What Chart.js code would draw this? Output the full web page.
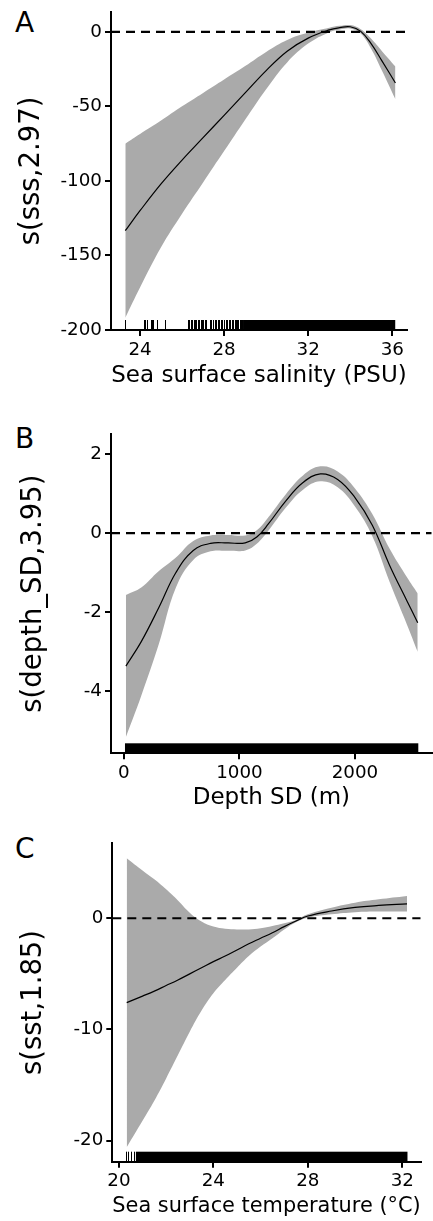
<!DOCTYPE html>
<html>
<head>
<meta charset="utf-8">
<script src="https://cdn.jsdelivr.net/npm/chart.js@4.4.1/dist/chart.umd.min.js"></script>
<style>
body{margin:0;background:#fff;width:433px;height:1221px;position:relative;overflow:hidden;font-family:"DejaVu Sans",sans-serif}
canvas{position:absolute;left:0}
.lbl{position:absolute;left:15px;font-size:28px;line-height:28px;color:#000}
</style>
</head>
<body>
<div class="lbl" style="top:9px">A</div>
<div class="lbl" style="top:425px">B</div>
<div class="lbl" style="top:835px">C</div>
<canvas id="chartA" width="433" height="395" style="top:0px;width:433px;height:395px"></canvas>
<canvas id="chartB" width="433" height="420" style="top:395px;width:433px;height:420px"></canvas>
<canvas id="chartC" width="433" height="406" style="top:815px;width:433px;height:406px"></canvas>
<script>

// A: sea surface salinity
const sssX     = [23.3, 24, 25, 26, 27, 28, 29, 30, 31, 32, 33, 33.5, 34, 34.5, 35, 35.5, 36.15]
const sssFit   = [-133.4, -120, -102, -86, -71, -56, -41, -26, -13, -4.2, 1.3, 2.8, 3.4, 0.3, -8.1, -19.3, -34.3]
const sssUpper = [-75, -68.5, -59.5, -50, -41, -32, -23, -13.5, -5.5, -0.5, 2.8, 4.0, 4.5, 1.7, -4.7, -12.8, -23.3]
const sssLower = [-191.8, -171.5, -144.5, -122, -101, -80, -59, -38.5, -20.5, -7.9, -0.2, 1.6, 2.3, -1.1, -11.5, -25.8, -45.3]
const sssRug = [23.29, 24.2, 24.26, 24.32, 24.5, 24.56, 24.63, 24.82, 25.17,
  26.28, 26.35, 26.42, 26.47, 26.55, 26.6, 26.68, 26.75, 26.8, 26.88, 26.95, 27.02, 27.1, 27.16,
  27.32, 27.4, 27.48, 27.55, 27.62, 27.7, 27.78, 27.85, 27.92, 28.0, 28.08, 28.15, 28.22, 28.3,
  28.36, 28.42, 28.5, 28.55, 28.62, 28.68, 28.75, 28.8, 28.86]
const sssRugBlocks = [[28.9, 36.14]]
const sssRange = [22.62, 36.7]
const sssTicksX = [24, 28, 32, 36]
const sssTicksY = [-200, -150, -100, -50, 0]
const sssYRange = [-200, 13.3]

// B: depth SD
const depthX     = [17, 150, 300, 450, 600, 750, 900, 1050, 1150, 1250, 1400, 1550, 1700, 1850, 2000, 2150, 2300, 2450, 2543]
const depthFit   = [-3.37, -2.75, -1.9, -1.0, -0.44, -0.26, -0.25, -0.25, -0.1, 0.23, 0.81, 1.28, 1.5, 1.36, 0.9, 0.2, -0.82, -1.72, -2.27]
const depthUpper = [-1.57, -1.38, -0.97, -0.62, -0.2, -0.06, -0.05, -0.06, 0.07, 0.4, 0.98, 1.46, 1.69, 1.56, 1.13, 0.48, -0.4, -1.12, -1.53]
const depthLower = [-5.17, -4.12, -2.83, -1.38, -0.68, -0.46, -0.45, -0.44, -0.27, 0.06, 0.64, 1.1, 1.31, 1.16, 0.67, -0.08, -1.24, -2.32, -3.01]
const depthRug = []
const depthRugBlocks = [[9, 2548]]
const depthRange = [-112, 2664]
const depthTicksX = [0, 1000, 2000]
const depthTicksY = [-4, -2, 0, 2]
const depthYRange = [-5.58, 2.51]

// C: sea surface temperature
const sstX     = [20.33, 21, 21.5, 22, 22.5, 23, 23.5, 24, 24.5, 25, 25.5, 26, 26.5, 27, 27.5, 28, 29, 30, 31, 32.2]
const sstFit   = [-7.59, -7.0, -6.55, -6.05, -5.55, -5.0, -4.45, -3.9, -3.4, -2.85, -2.3, -1.8, -1.3, -0.75, -0.25, 0.2, 0.65, 0.97, 1.15, 1.3]
const sstUpper = [5.4, 4.3, 3.5, 2.6, 1.6, 0.5, -0.3, -0.75, -0.95, -1.0, -1.0, -0.9, -0.7, -0.45, -0.15, 0.35, 0.95, 1.4, 1.7, 2.0]
const sstLower = [-20.58, -18.2, -16.4, -14.4, -12.3, -10.2, -8.3, -6.75, -5.55, -4.45, -3.4, -2.55, -1.8, -1.0, -0.35, 0.05, 0.35, 0.54, 0.6, 0.6]
const sstRug = [20.3, 20.39, 20.5, 20.62]
const sstRugBlocks = [[20.72, 32.22]]
const sstRange = [19.72, 32.78]
const sstTicksX = [20, 24, 28, 32]
const sstTicksY = [-20, -10, 0]
const sstYRange = [-21.89, 6.74]


Chart.defaults.font.family = '"DejaVu Sans", sans-serif'
Chart.defaults.color = '#000'
Chart.defaults.animation = false

function pts(xs, ys){
  return xs.map((v,i)=>({x:v, y:ys[i]}))
}

function rugPlugin(marks, blocks){
  return {
    id:'rug',
    afterDatasetsDraw(chart){
      const ctx = chart.ctx, sx = chart.scales.x, area = chart.chartArea
      ctx.save()
      ctx.strokeStyle = '#000'
      ctx.fillStyle = '#000'
      ctx.lineWidth = 1
      marks.forEach((v)=>{
        const px = Math.round(sx.getPixelForValue(v)) + 0.5
        ctx.beginPath()
        ctx.moveTo(px, area.bottom)
        ctx.lineTo(px, area.bottom - 10)
        ctx.stroke()
      })
      blocks.forEach((b)=>{
        const x0 = sx.getPixelForValue(b[0]), x1 = sx.getPixelForValue(b[1])
        ctx.fillRect(x0, area.bottom - 10, x1 - x0, 10)
      })
      ctx.restore()
    }
  }
}

function makeChart(id, p){
  const axisLook = {
    grid:{display:true, drawOnChartArea:false, drawTicks:true, tickLength:6, color:'#000', lineWidth:2},
    border:{display:true, color:'#000', width:2}
  }
  const smooth = {pointRadius:0, tension:0.4}
  return new Chart(document.getElementById(id), {
    type:'line',
    data:{datasets:[
      {data:pts(p.x, p.upper), fill:'+1', backgroundColor:'#aaaaaa', borderColor:'rgba(0,0,0,0)', borderWidth:0, order:3, ...smooth},
      {data:pts(p.x, p.lower), fill:false, borderColor:'rgba(0,0,0,0)', borderWidth:0, order:3, ...smooth},
      {data:pts(p.x, p.fit), fill:false, borderColor:'#000', borderWidth:1.2, order:1, ...smooth},
      {data:[{x:p.xRange[0], y:0}, {x:p.xRange[1], y:0}], fill:false, borderColor:'#000', borderWidth:2.2, borderDash:[9,6], pointRadius:0, order:2}
    ]},
    options:{
      responsive:false,
      events:[],
      layout:{padding:p.pad},
      plugins:{legend:{display:false}, tooltip:{enabled:false}},
      scales:{
        x:{
          type:'linear', min:p.xRange[0], max:p.xRange[1], ...axisLook,
          afterBuildTicks:(s)=>{ s.ticks = p.ticksX.map(v=>({value:v})) },
          ticks:{callback:(v)=>String(v), font:{size:18.3}, padding:3, maxRotation:0, autoSkip:false},
          title:{display:true, text:p.xTitle, font:{size:p.xTitleSize}, padding:{top:0, bottom:p.xTitlePad}},
          afterFit:(s)=>{ s.height = p.xHeight; s.paddingLeft = 0; s.paddingRight = 0 }
        },
        y:{
          type:'linear', min:p.yRange[0], max:p.yRange[1], ...axisLook,
          afterBuildTicks:(s)=>{ s.ticks = p.ticksY.map(v=>({value:v})) },
          ticks:{callback:(v)=>String(v), font:{size:18.3}, padding:3, autoSkip:false},
          title:{display:true, text:p.yTitle, font:{size:27.5}, padding:{top:p.yTitlePad, bottom:0}},
          afterFit:(s)=>{ s.width = p.yWidth; s.paddingTop = 0; s.paddingBottom = 0 }
        }
      }
    },
    plugins:[rugPlugin(p.rug, p.rugBlocks)]
  })
}

makeChart('chartA', {
  x:sssX, fit:sssFit, upper:sssUpper, lower:sssLower, rug:sssRug, rugBlocks:sssRugBlocks,
  xRange:sssRange, yRange:sssYRange, ticksX:sssTicksX, ticksY:sssTicksY,
  xTitle:'Sea surface salinity (PSU)', yTitle:'s(sss,2.97)',
  pad:{left:0, top:12, right:26, bottom:0}, yWidth:111, xHeight:65,
  xTitleSize:23, xTitlePad:5.2, yTitlePad:15.5
})

makeChart('chartB', {
  x:depthX, fit:depthFit, upper:depthUpper, lower:depthLower, rug:depthRug, rugBlocks:depthRugBlocks,
  xRange:depthRange, yRange:depthYRange, ticksX:depthTicksX, ticksY:depthTicksY,
  xTitle:'Depth SD (m)', yTitle:'s(depth_SD,3.95)',
  pad:{left:0, top:39, right:1.3, bottom:0}, yWidth:111, xHeight:61.7,
  xTitleSize:23, xTitlePad:3.2, yTitlePad:17
})

makeChart('chartC', {
  x:sstX, fit:sstFit, upper:sstUpper, lower:sstLower, rug:sstRug, rugBlocks:sstRugBlocks,
  xRange:sstRange, yRange:sstYRange, ticksX:sstTicksX, ticksY:sstTicksY,
  xTitle:'Sea surface temperature (°C)', yTitle:'s(sst,1.85)',
  pad:{left:0, top:28.3, right:12.3, bottom:0}, yWidth:112.3, xHeight:59.3,
  xTitleSize:21.5, xTitlePad:2.1, yTitlePad:17
})
</script>
</body>
</html>
